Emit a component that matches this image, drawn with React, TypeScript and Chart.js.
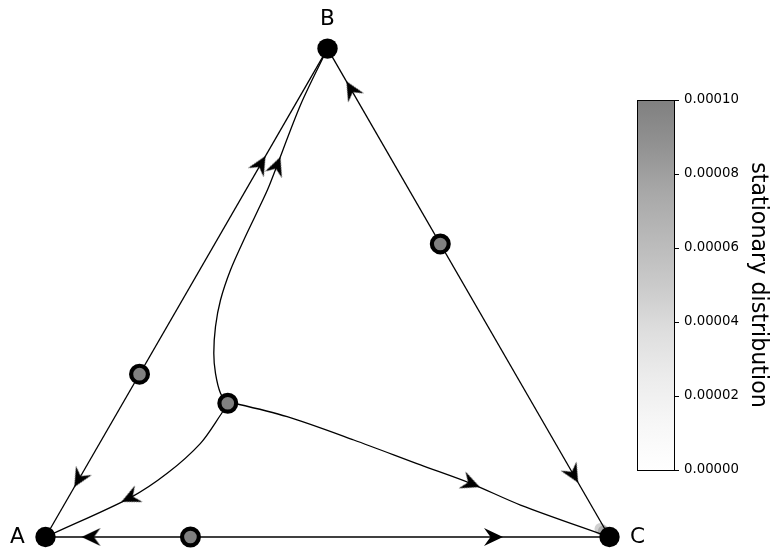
import React, { useEffect, useRef } from 'react';
import { Chart, registerables } from 'chart.js';

Chart.register(...registerables);

// ---- data (simplex cartesian coordinates: A=(0,0), B=(0.5,0.866), C=(1,0)) ----
const vertexLabels = ['A', 'B', 'C'];
const vertices = [
  [0, 0],
  [0.5, 0.866],
  [1, 0],
];

// unstable / saddle rest points (gray)
const restPoints = [
  [0.1667, 0.2887],
  [0.7, 0.5196],
  [0.257, 0],
  [0.3232, 0.2371],
];

// edge trajectories
const edgeAB = [[0, 0], [0.5, 0.866]];
const edgeBC = [[0.5, 0.866], [1, 0]];
const edgeAC = [[0, 0], [1, 0]];

// interior trajectories from the interior rest point
const trajToB = [
  [0.3232, 0.2371],
  [0.3103, 0.2548],
  [0.3014, 0.2902],
  [0.2984, 0.3257],
  [0.3014, 0.3729],
  [0.3103, 0.4202],
  [0.328, 0.4734],
  [0.3516, 0.5266],
  [0.3754, 0.5768],
  [0.3959, 0.6211],
  [0.4521, 0.766],
  [0.5, 0.866],
];
const trajToC = [
  [0.3232, 0.2371],
  [0.3395, 0.2358],
  [0.4285, 0.2133],
  [0.5466, 0.172],
  [0.6649, 0.1277],
  [0.7535, 0.0952],
  [0.8422, 0.0567],
  [1, 0],
];
const trajToA = [
  [0.3232, 0.2371],
  [0.3103, 0.2163],
  [0.2748, 0.1661],
  [0.2158, 0.1129],
  [0.1507, 0.0699],
  [0.0147, 0.0066],
  [0, 0],
];

// arrows: position + direction
const arrowX = [0.06, 0.381, 0.5425, 0.9355, 0.0816, 0.7934, 0.41, 0.7535, 0.1507];
const arrowY = [0.104, 0.66, 0.7925, 0.1117, 0, 0, 0.6573, 0.0952, 0.0699];
const arrowDX = [-0.5, 0.5, -0.5, 0.5, -1, 1, 0.0562, 0.1773, -0.136];
const arrowDY = [-0.866, 0.866, 0.866, -0.866, 0, 0, 0.1449, -0.0709, -0.0633];

// stationary-distribution mass visible near C
const densityPoints = [[0.984, 0.014], [0.99, 0.01]];

// colour bar
const cbMin = 0;
const cbMax = 0.0001;
const cbStep = 0.00002;
const cbTitle = 'stationary distribution';

const toXY = (arr: number[][]) => arr.map(([x, y]) => ({ x, y }));

export default function App() {
  const ref = useRef<HTMLCanvasElement>(null);

  useEffect(() => {
    const canvas = ref.current;
    if (!canvas) return;

    // arrow head image (points to +x)
    const arrowImg = document.createElement('canvas');
    arrowImg.width = 26;
    arrowImg.height = 26;
    const g = arrowImg.getContext('2d')!;
    g.fillStyle = '#000';
    g.beginPath();
    g.moveTo(13 + 10, 13);
    g.lineTo(13 - 9, 13 - 9);
    g.lineTo(13 - 2.5, 13);
    g.lineTo(13 - 9, 13 + 9);
    g.closePath();
    g.fill();

    // layout constants
    const W = 778, H = 559, CB_W = 104, PAD_TOP = 11;
    const PX = 564;
    const areaRight = W - CB_W;
    const originX = 45.5, originY = 537;
    const xMin = -originX / PX, xMax = (areaRight - originX) / PX;
    const yMin = -(H - originY) / PX, yMax = (originY - PAD_TOP) / PX;
    const cbTopPx = 100, cbBottomPx = 470;
    const cbPer = (cbBottomPx - cbTopPx) / (cbMax - cbMin);
    const cbLo = cbMin - (H - cbBottomPx) / cbPer;
    const cbHi = cbMax + (cbTopPx - PAD_TOP) / cbPer;

    const cmapStops: [number, string][] = [
      [0, 'rgb(255,255,255)'],
      [0.125, 'rgb(247,247,247)'],
      [0.25, 'rgb(236,236,236)'],
      [0.375, 'rgb(222,222,222)'],
      [0.5, 'rgb(202,202,202)'],
      [0.625, 'rgb(185,185,185)'],
      [0.75, 'rgb(168,168,168)'],
      [0.875, 'rgb(146,146,146)'],
      [1, 'rgb(128,128,128)'],
    ];

    const decor = {
      id: 'decor',
      beforeDatasetsDraw(chart: any) {
        const cb = chart.scales.cb;
        const y0 = cb.getPixelForValue(cbMin);
        const y1 = cb.getPixelForValue(cbMax);
        const xr = Math.round(cb.left) + 0.5;
        const xl = xr - 37;
        const ctx = chart.ctx as CanvasRenderingContext2D;
        ctx.save();
        const grad = ctx.createLinearGradient(0, y0, 0, y1);
        cmapStops.forEach(([t, c]) => grad.addColorStop(t, c));
        ctx.fillStyle = grad;
        ctx.fillRect(xl, y1, xr - xl, y0 - y1);
        ctx.strokeStyle = '#000';
        ctx.lineWidth = 1;
        ctx.strokeRect(xl, Math.round(y1) + 0.5, xr - xl, Math.round(y0 - y1));
        ctx.restore();
      },
      afterDatasetsDraw(chart: any) {
        const xs = chart.scales.x, ys = chart.scales.y;
        const ctx = chart.ctx as CanvasRenderingContext2D;
        const offs = [[-28, 0], [0, -29], [28, 0]];
        ctx.save();
        ctx.fillStyle = '#000';
        ctx.font = '21.6px "DejaVu Sans"';
        ctx.textAlign = 'center';
        ctx.textBaseline = 'middle';
        vertices.forEach(([x, y], i) => {
          ctx.fillText(
            vertexLabels[i],
            xs.getPixelForValue(x) + offs[i][0],
            ys.getPixelForValue(y) + offs[i][1]
          );
        });
        ctx.restore();
      },
    };

    const lineDs = (data: number[][], tension: number) => ({
      data: toXY(data),
      showLine: true,
      borderColor: '#000',
      borderWidth: 1.3,
      pointRadius: 0,
      tension,
      fill: false,
    });

    const arrowData = arrowX.map((x, i) => ({ x, y: arrowY[i], dx: arrowDX[i], dy: arrowDY[i] }));

    const chart = new Chart(canvas, {
      type: 'scatter',
      data: {
        datasets: [
          {
            data: toXY(vertices),
            pointRadius: 10.2,
            backgroundColor: '#000',
            borderWidth: 0,
          } as any,
          {
            data: toXY(restPoints),
            pointRadius: 8.4,
            backgroundColor: '#808080',
            borderColor: '#000',
            borderWidth: 4.2,
          },
          {
            data: arrowData,
            pointStyle: arrowImg,
            pointRadius: 10,
            rotation: (c: any) => {
              const r = c.raw;
              if (!r || r.dx === undefined) return 0;
              const xs = c.chart.scales.x, ys = c.chart.scales.y;
              const dxp = xs.getPixelForValue(r.x + r.dx * 0.01) - xs.getPixelForValue(r.x);
              const dyp = ys.getPixelForValue(r.y + r.dy * 0.01) - ys.getPixelForValue(r.y);
              return (Math.atan2(dyp, dxp) * 180) / Math.PI;
            },
          } as any,
          lineDs(edgeAB, 0),
          lineDs(edgeBC, 0),
          lineDs(edgeAC, 0),
          lineDs(trajToB, 0.3),
          lineDs(trajToC, 0.3),
          lineDs(trajToA, 0.3),
          {
            data: toXY(densityPoints),
            pointRadius: 6,
            backgroundColor: 'rgba(40,40,40,0.22)',
            borderWidth: 0,
          },
        ],
      },
      options: {
        responsive: true,
        maintainAspectRatio: false,
        animation: false,
        events: [],
        layout: { autoPadding: false, padding: { top: PAD_TOP, left: 0, right: 0, bottom: 0 } },
        plugins: { legend: { display: false }, tooltip: { enabled: false } },
        scales: {
          x: { type: 'linear', display: false, min: xMin, max: xMax },
          y: { type: 'linear', display: false, min: yMin, max: yMax },
          cb: {
            type: 'linear',
            axis: 'y',
            position: 'right',
            min: cbLo,
            max: cbHi,
            border: { display: false },
            grid: {
              drawOnChartArea: false,
              drawTicks: true,
              tickLength: 5,
              color: '#000',
              lineWidth: 1,
            },
            ticks: {
              stepSize: cbStep,
              padding: 5,
              color: '#000',
              font: { family: 'DejaVu Sans', size: 13.3 },
              callback: (v: any) => Number(v).toFixed(5),
              autoSkip: false,
            },
            title: {
              display: true,
              text: cbTitle,
              color: '#000',
              font: { family: 'DejaVu Sans', size: 22.2 },
              padding: { top: 6.5, bottom: 0 },
            },
            afterBuildTicks: (scale: any) => {
              scale.ticks = scale.ticks.filter(
                (t: any) => t.value > cbMin - 1e-9 && t.value < cbMax + 1e-9
              );
            },
            afterFit: (scale: any) => {
              scale.width = CB_W;
              scale.paddingTop = 0;
              scale.paddingBottom = 0;
              scale.paddingLeft = 0;
              scale.paddingRight = 0;
            },
          } as any,
        },
      },
      plugins: [decor],
    });

    return () => chart.destroy();
  }, []);

  return (
    <div style={{ position: 'absolute', left: 0, top: 0, width: 778, height: 559 }}>
      <canvas ref={ref} />
    </div>
  );
}
